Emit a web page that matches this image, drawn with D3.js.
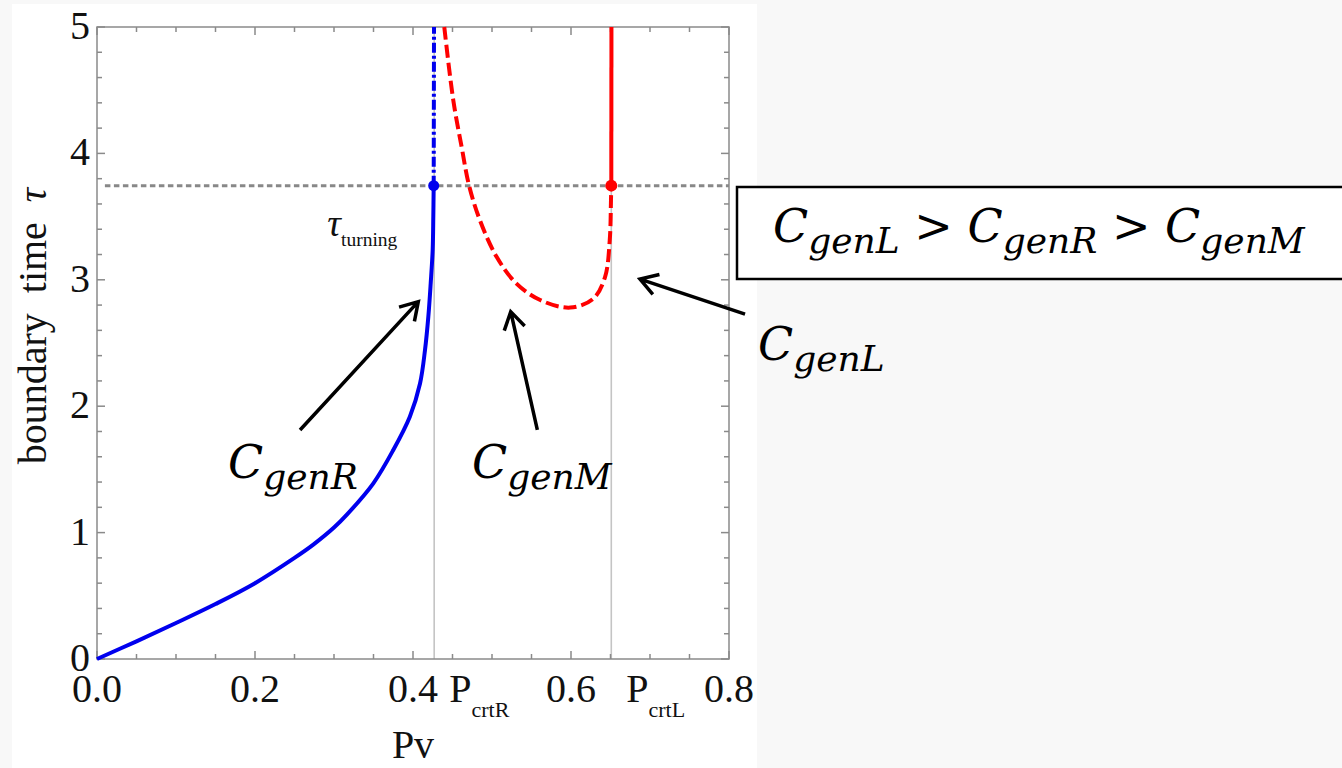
<!DOCTYPE html>
<html>
<head>
<meta charset="utf-8">
<script src="https://cdn.jsdelivr.net/npm/d3@7"></script>
<style>
	body { margin: 0; background: #f8f8f8; }
	.tick-label { font-family: "Liberation Serif", "Times New Roman", serif; font-size: 40px; fill: #111; }
	.math { font-family: "DejaVu Serif", serif; font-style: italic; fill: #000; }
</style>
</head>
<body>
<svg id="chart" width="1342" height="768"></svg>
<script>
// blue curve C_genR (solid part, up to the turning point)
var blueSolidPv  = [0, 0.05, 0.1, 0.15, 0.2, 0.25, 0.2738, 0.3, 0.316, 0.3498, 0.375, 0.396, 0.4089, 0.4152, 0.4194, 0.4224, 0.4249, 0.4257, 0.4262];
var blueSolidTau = [0, 0.14, 0.285, 0.435, 0.6, 0.8, 0.905, 1.04, 1.14, 1.39, 1.653, 1.917, 2.18, 2.445, 2.708, 2.972, 3.236, 3.5, 3.745];
// blue dash-dot continuation above tau_turning
var blueDashPv  = [0.4262, 0.4266];
var blueDashTau = [3.745, 5];
// red dashed curve C_genM
var redDashPv  = [0.4396, 0.451, 0.4616, 0.471, 0.4848, 0.506, 0.531, 0.561, 0.599, 0.628, 0.643, 0.649, 0.6506, 0.651];
var redDashTau = [5.0, 4.42, 4.05, 3.745, 3.47, 3.18, 2.97, 2.84, 2.78, 2.85, 3.02, 3.31, 3.63, 3.745];
// red solid C_genL above tau_turning
var redSolidPv  = [0.651, 0.6512];
var redSolidTau = [3.745, 5];

var tauTurning = 3.745;
var pcrtR = 0.4268, pcrtL = 0.651;
var xTicks = [0, 0.2, 0.4, 0.6, 0.8];
var xTickLabels = ["0.0", "0.2", "0.4", "0.6", "0.8"];
var yTicks = [0, 1, 2, 3, 4, 5];

var margin = {left: 97, top: 27, right: 613, bottom: 109};
var width = 1342 - margin.left - margin.right,
	height = 768 - margin.top - margin.bottom;

var svg = d3.select("#chart");

// white sheet of the original figure
svg.append("rect")
	.attr("x", 12).attr("y", 4)
	.attr("width", 745).attr("height", 764)
	.attr("fill", "#fff");

var g = svg.append("g")
	.attr("transform", "translate(" + margin.left + "," + margin.top + ")");

var x = d3.scaleLinear().domain([0, 0.8]).range([0, width]);
var y = d3.scaleLinear().domain([0, 5]).range([height, 0]);

function zip(a, b) {
	return a.map(function(v, i) { return [v, b[i]]; });
}

var line = d3.line()
	.x(function(d) { return x(d[0]); })
	.y(function(d) { return y(d[1]); })
	.curve(d3.curveCatmullRom.alpha(0.5));

// gray vertical reference lines at critical Pv
g.selectAll(".crt")
	.data([pcrtR, pcrtL])
	.enter().append("line")
	.attr("x1", function(d) { return x(d); })
	.attr("x2", function(d) { return x(d); })
	.attr("y1", 0).attr("y2", height)
	.attr("stroke", "#c4c4c4")
	.attr("stroke-width", 1.6);

// frame + ticks on all four sides (inward)
var minorX = d3.range(0, 0.8001, 0.05), minorY = d3.range(0, 5.0001, 0.2);
function tickLen(v, step) { return Math.abs(v / step - Math.round(v / step)) < 1e-6 ? 8 : 5; }

var axes = g.append("g").attr("stroke", "#8a8a8a").attr("stroke-width", 1.5);
minorX.forEach(function(v) {
	var L = tickLen(v, 0.2);
	axes.append("line").attr("x1", x(v)).attr("x2", x(v)).attr("y1", height).attr("y2", height - L);
	axes.append("line").attr("x1", x(v)).attr("x2", x(v)).attr("y1", 0).attr("y2", L);
});
minorY.forEach(function(v) {
	var L = tickLen(v, 1);
	axes.append("line").attr("x1", 0).attr("x2", L).attr("y1", y(v)).attr("y2", y(v));
	axes.append("line").attr("x1", width).attr("x2", width - L).attr("y1", y(v)).attr("y2", y(v));
});
g.append("rect")
	.attr("width", width).attr("height", height)
	.attr("fill", "none").attr("stroke", "#8a8a8a").attr("stroke-width", 1.5);

// tick labels
g.selectAll(".xl")
	.data(xTicks)
	.enter().append("text")
	.attr("class", "tick-label")
	.attr("x", function(d) { return x(d); })
	.attr("y", height + 43)
	.attr("text-anchor", "middle")
	.text(function(d, i) { return xTickLabels[i]; });

g.selectAll(".yl")
	.data(yTicks)
	.enter().append("text")
	.attr("class", "tick-label")
	.attr("x", -7)
	.attr("y", function(d) { return y(d); })
	.attr("dy", "0.3em")
	.attr("text-anchor", "end")
	.text(function(d) { return d; });

// P_crtR / P_crtL labels
[[pcrtR, "crtR"], [pcrtL, "crtL"]].forEach(function(p) {
	var t = g.append("text").attr("class", "tick-label")
		.attr("x", x(p[0]) + 15).attr("y", height + 43);
	t.append("tspan").text("P");
	t.append("tspan").attr("dy", 15).style("font-size", "22px").text(p[1]);
});

// axis titles
g.append("text")
	.attr("class", "tick-label")
	.attr("x", x(0.4)).attr("y", height + 99)
	.attr("text-anchor", "middle")
	.text("Pv");

var yt = g.append("text")
	.attr("class", "tick-label")
	.style("font-size", "40px")
	.attr("transform", "translate(-51," + (y(2.634)) + ") rotate(-90)")
	.attr("text-anchor", "middle");
yt.append("tspan").text("boundary\u00a0\u00a0time\u00a0\u00a0");
yt.append("tspan").style("font-style", "italic").text("\u03c4");

// tau_turning dashed line
g.append("line")
	.attr("x1", x(0.01)).attr("x2", width)
	.attr("y1", y(tauTurning)).attr("y2", y(tauTurning))
	.attr("stroke", "#888").attr("stroke-width", 3)
	.attr("stroke-dasharray", "5.5,3.5");

// curves
g.append("path").datum(zip(redDashPv, redDashTau))
	.attr("d", line).attr("fill", "none")
	.attr("stroke", "#ff0000").attr("stroke-width", 4)
	.attr("stroke-dasharray", "13,5");
g.append("path").datum(zip(redSolidPv, redSolidTau))
	.attr("d", line).attr("fill", "none")
	.attr("stroke", "#ff0000").attr("stroke-width", 4);
g.append("path").datum(zip(blueSolidPv, blueSolidTau))
	.attr("d", line).attr("fill", "none")
	.attr("stroke", "#0000ee").attr("stroke-width", 4);
g.append("path").datum(zip(blueDashPv, blueDashTau))
	.attr("d", line).attr("fill", "none")
	.attr("stroke", "#0000ee").attr("stroke-width", 4)
	.attr("stroke-dasharray", "10,3,3,3");

// turning points
g.append("circle").attr("cx", x(blueSolidPv[blueSolidPv.length - 1])).attr("cy", y(tauTurning))
	.attr("r", 5.5).attr("fill", "#0000ee");
g.append("circle").attr("cx", x(redSolidPv[0])).attr("cy", y(tauTurning))
	.attr("r", 6).attr("fill", "#ff0000");

// tau_turning label
var tt = g.append("text").attr("class", "tick-label").attr("x", x(0.2916)).attr("y", y(3.35));
tt.append("tspan").style("font-style", "italic").style("font-size", "38px").text("\u03c4");
tt.append("tspan").attr("dy", 10).style("font-size", "19.5px").text("turning");

// annotation arrows
var arrows = [
	{from: [0.257, 1.812], to: [0.4067, 2.827]},
	{from: [0.5574, 1.812], to: [0.5237, 2.748]},
	{from: [0.8203, 2.729], to: [0.6873, 3.006]}
];
arrows.forEach(function(a) {
	var x0 = x(a.from[0]), y0 = y(a.from[1]), x1 = x(a.to[0]), y1 = y(a.to[1]);
	var ang = Math.atan2(y1 - y0, x1 - x0), L = 20, w = 0.55;
	var p = "M" + x0 + "," + y0 + "L" + x1 + "," + y1 +
		"M" + (x1 - L * Math.cos(ang - w)) + "," + (y1 - L * Math.sin(ang - w)) +
		"L" + x1 + "," + y1 +
		"L" + (x1 - L * Math.cos(ang + w)) + "," + (y1 - L * Math.sin(ang + w));
	g.append("path").attr("d", p).attr("fill", "none")
		.attr("stroke", "#000").attr("stroke-width", 3.5)
		.attr("stroke-linecap", "butt").attr("stroke-linejoin", "miter");
});

// C_gen labels
function genLabel(sel, px, py, sub) {
	var t = sel.append("text").attr("class", "math").attr("x", px).attr("y", py);
	t.append("tspan").style("font-size", "46px").text("C");
	t.append("tspan").attr("dy", 11).style("font-size", "36px").text(sub);
	return t;
}
genLabel(svg, 228, 478, "genR");
genLabel(svg, 472, 478, "genM");
genLabel(svg, 758, 360, "genL");

// relation box
svg.append("rect")
	.attr("x", 737).attr("y", 187)
	.attr("width", 640).attr("height", 92)
	.attr("fill", "#fff").attr("stroke", "#000").attr("stroke-width", 2.5);

var rel = svg.append("text").attr("class", "math").attr("x", 773).attr("y", 242);
var relSubs = ["genL", "genR", "genM"];
relSubs.forEach(function(s, i) {
	// the ">" already lifted the baseline back, so C keeps dy 0
	rel.append("tspan").attr("dy", 0).style("font-size", "46px").text("C");
	rel.append("tspan").attr("dy", 11).style("font-size", "36px").text(s);
	if (i < relSubs.length - 1) {
		rel.append("tspan").attr("dy", -11).style("font-size", "46px").style("font-style", "normal").text("\u00a0>\u00a0");
	}
});
</script>
</body>
</html>
